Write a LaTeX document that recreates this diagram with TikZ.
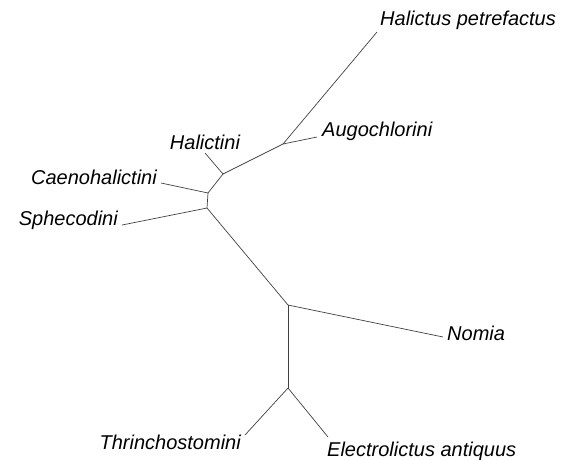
\documentclass[tikz,border=0pt]{standalone}
\usepackage{fontspec}
\setmainfont{Liberation Sans}
\begin{document}
\begin{tikzpicture}[
        x=1pt, y=-1pt,
        taxon/.style={font=\fontsize{20}{23}\selectfont\itshape, inner sep=1pt},
        branch/.style={draw=black!75, line width=0.7pt}
    ]
    \useasboundingbox (0,0) rectangle (567,459);

    % inner nodes of the tree
    \coordinate (jaug) at (283,144);
    \coordinate (jhal) at (223,174);
    \coordinate (jcae) at (208,193);
    \coordinate (jsph) at (207,208);
    \coordinate (jnom) at (288,305);
    \coordinate (jbot) at (288,388);

    % branch tips
    \coordinate (tpet) at (377,32);
    \coordinate (taug) at (317,137);
    \coordinate (thal) at (205,153);
    \coordinate (tcae) at (161,183);
    \coordinate (tsph) at (122,225);
    \coordinate (tnom) at (443,337);
    \coordinate (tele) at (328,437);
    \coordinate (tthr) at (245,435);

    % labels
    \node[taxon, anchor=west] (petrefactus) at (379,20) {Halictus petrefactus};
    \node[taxon, anchor=west] (augochlorini) at (321,131) {Augochlorini};
    \node[taxon] (halictini) at (205,142) {Halictini};
    \node[taxon, anchor=east] (caenohalictini) at (158,177) {Caenohalictini};
    \node[taxon, anchor=east] (sphecodini) at (119,220) {Sphecodini};
    \node[taxon, anchor=west] (nomia) at (446,333) {Nomia};
    \node[taxon, anchor=west] (electrolictus) at (326,451) {Electrolictus antiquus};
    \node[taxon, anchor=east] (thrinchostomini) at (242,442) {Thrinchostomini};

    \draw[branch] (jaug) -- (tpet);
    \draw[branch] (jaug) -- (taug);
    \draw[branch] (jhal) -- (jaug);
    \draw[branch] (jhal) -- (thal);
    \draw[branch] (jcae) -- (jhal);
    \draw[branch] (jcae) -- (tcae);
    \draw[branch] (jsph) -- (jcae);
    \draw[branch] (jsph) -- (tsph);
    \draw[branch] (jsph) -- (jnom);
    \draw[branch] (jnom) -- (tnom);
    \draw[branch] (jnom) -- (jbot);
    \draw[branch] (jbot) -- (tele);
    \draw[branch] (jbot) -- (tthr);

\end{tikzpicture}
\end{document}
